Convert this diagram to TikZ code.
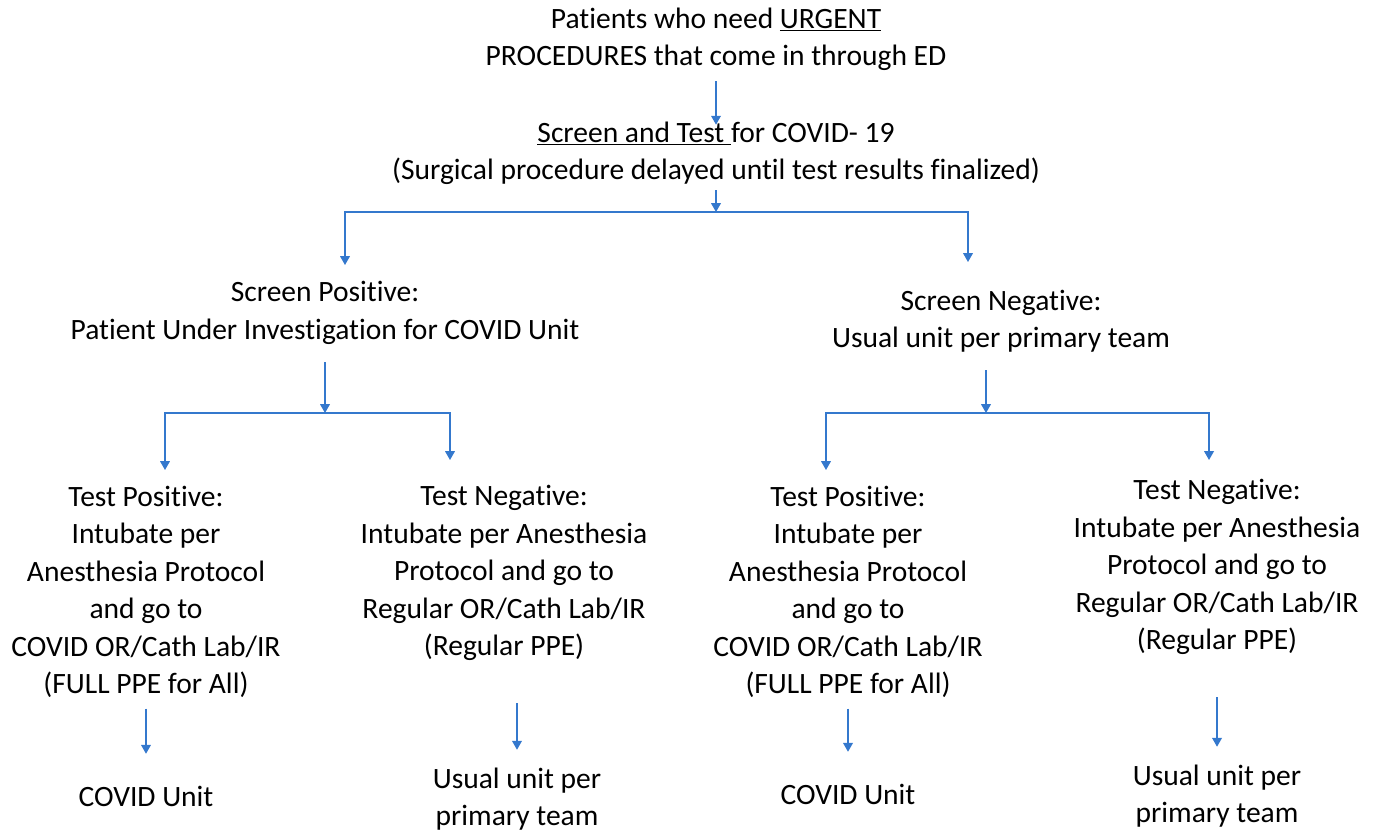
\documentclass[tikz,border=0pt]{standalone}
\usepackage{fontspec}
\setmainfont{Carlito}[Ligatures=NoCommon]
\usetikzlibrary{arrows.meta, positioning}
\definecolor{myblue}{RGB}{52,120,205}
\tikzset{
  txt/.style={align=center, font=\fontsize{16.8}{21.3}\selectfont, inner sep=2pt},
  arrow/.style={-{Triangle[width=5.5pt,length=5pt]}, line width=0.7pt, color=myblue},
  line/.style={line width=0.7pt, color=myblue}
}

\begin{document}
\begin{tikzpicture}[x=0.02cm, y=-0.02cm]
  \useasboundingbox (0,0) rectangle (1378,832);

  \node[txt] (start) at (716,39) {Patients who need \underline{URGENT}\\PROCEDURES that come in through ED};
  \node[txt] (screen) at (716,153) {\underline{Screen and Test\ }for COVID- 19\\(Surgical procedure delayed until test results finalized)};

  \node[txt] (spos) at (325,313) {Screen Positive:\\Patient Under Investigation for COVID Unit};
  \node[txt] (sneg) at (1001,321) {Screen Negative:\\Usual unit per primary team};

  \node[txt] (tpos1) at (146,592) {Test Positive:\\Intubate per\\Anesthesia Protocol\\and go to\\COVID OR/Cath Lab/IR\\(FULL PPE for All)};
  \node[txt] (tneg1) at (504,573) {Test Negative:\\Intubate per Anesthesia\\Protocol and go to\\Regular OR/Cath Lab/IR\\(Regular PPE)};
  \node[txt] (tpos2) at (848,592) {Test Positive:\\Intubate per\\Anesthesia Protocol\\and go to\\COVID OR/Cath Lab/IR\\(FULL PPE for All)};
  \node[txt] (tneg2) at (1217,567) {Test Negative:\\Intubate per Anesthesia\\Protocol and go to\\Regular OR/Cath Lab/IR\\(Regular PPE)};

  \node[txt] (unit1) at (146,796) {COVID Unit};
  \node[txt] (usual1) at (517,799) {Usual unit per\\primary team};
  \node[txt] (unit2) at (848,794) {COVID Unit};
  \node[txt] (usual2) at (1217,796) {Usual unit per\\primary team};

  % junctions
  \coordinate (j0) at (716,212);
  \coordinate (sl) at (345,265);
  \coordinate (sr) at (968,262);
  \coordinate (k1) at (325,413);
  \coordinate (p1) at (165,470);
  \coordinate (n1) at (450,460);
  \coordinate (k2) at (986,413);
  \coordinate (p2) at (826,470);
  \coordinate (n2) at (1209,460);

  \draw[arrow, shorten <=4pt, shorten >=-4pt] (start) -- (screen);
  \draw[arrow, shorten <=1pt] (screen) -- (j0);
  \draw[arrow] (j0) -| (sl);
  \draw[arrow] (j0) -| (sr);

  \draw[arrow, shorten <=8pt] (spos) -- (k1);
  \draw[arrow] (k1) -| (p1);
  \draw[arrow] (k1) -| (n1);
  \draw[arrow, shorten <=8pt] (sneg.south -| k2) -- (k2);
  \draw[arrow] (k2) -| (p2);
  \draw[arrow] (k2) -| (n2);

  \draw[arrow, shorten <=4pt, shorten >=16pt] (tpos1) -- (unit1);
  \draw[arrow, shorten <=22pt, shorten >=8pt] (tneg1.south -| usual1) -- (usual1);
  \draw[arrow, shorten <=4pt, shorten >=16pt] (tpos2) -- (unit2);
  \draw[arrow, shorten <=22pt, shorten >=8pt] (tneg2) -- (usual2);
\end{tikzpicture}
\end{document}
